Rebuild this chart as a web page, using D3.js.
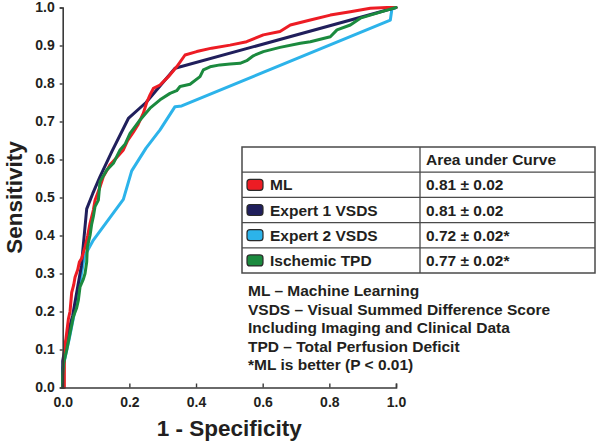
<!DOCTYPE html>
<html>
<head>
<meta charset="utf-8">
<script src="https://cdn.jsdelivr.net/npm/d3@7"></script>
<style>
  html, body { margin: 0; padding: 0; background: #fff; }
  svg { display: block; }
  text { font-family: "Liberation Sans", Arial, Helvetica, sans-serif; font-weight: bold; fill: #231f20; }
</style>
</head>
<body>
<svg id="chart" width="600" height="444"></svg>
<script>
// ---------- data ----------
const xTicks = [0.0, 0.2, 0.4, 0.6, 0.8, 1.0];
const yTicks = [0.0, 0.1, 0.2, 0.3, 0.4, 0.5, 0.6, 0.7, 0.8, 0.9, 1.0];

const seriesNames = ["ML", "Expert 1 VSDS", "Expert 2 VSDS", "Ischemic TPD"];
const seriesColors = ["#ed1c24", "#201f5c", "#2cb3ea", "#1b8a3e"];
const aucLabels = ["0.81 \u00b1 0.02", "0.81 \u00b1 0.02", "0.72 \u00b1 0.02*", "0.77 \u00b1 0.02*"];

// ROC points: [1 - specificity, sensitivity]
const mlCurve = [
  [0,0],[0.005,0],[0.005,0.10],[0.010,0.13],[0.017,0.18],[0.022,0.20],[0.027,0.25],
  [0.033,0.27],[0.037,0.29],[0.045,0.31],[0.050,0.33],[0.057,0.34],[0.067,0.37],
  [0.075,0.40],[0.082,0.432],[0.092,0.467],[0.097,0.493],[0.112,0.528],[0.122,0.555],
  [0.142,0.586],[0.162,0.605],[0.182,0.625],[0.195,0.65],[0.212,0.672],[0.225,0.69],
  [0.242,0.722],[0.252,0.75],[0.262,0.77],[0.272,0.787],[0.292,0.796],[0.317,0.818],
  [0.342,0.844],[0.367,0.875],[0.402,0.884],[0.447,0.893],[0.502,0.901],[0.552,0.91],
  [0.602,0.928],[0.652,0.937],[0.683,0.954],[0.743,0.967],[0.803,0.98],[0.863,0.989],
  [0.923,0.998],[0.973,1.0],[1,1]
];
const expert1Curve = [
  [0,0],[0,0.07],[0.012,0.13],[0.03,0.19],[0.056,0.32],[0.072,0.47],[0.09,0.51],
  [0.112,0.555],[0.147,0.62],[0.197,0.708],[0.25,0.75],[0.337,0.84],[1,1]
];
const expert2Curve = [
  [0,0],[0,0.05],[0.02,0.13],[0.045,0.24],[0.065,0.345],[0.092,0.388],[0.182,0.495],
  [0.207,0.57],[0.25,0.63],[0.292,0.678],[0.337,0.739],[0.357,0.741],[0.983,0.967],
  [0.988,0.998],[1,1]
];
const tpdCurve = [
  [0,0],[0,0.03],[0.003,0.064],[0.012,0.099],[0.022,0.143],[0.032,0.186],[0.042,0.21],
  [0.047,0.23],[0.052,0.265],[0.062,0.285],[0.067,0.30],[0.072,0.33],[0.074,0.37],
  [0.082,0.40],[0.087,0.43],[0.092,0.45],[0.097,0.476],[0.107,0.493],[0.112,0.542],
  [0.132,0.572],[0.152,0.59],[0.172,0.625],[0.187,0.64],[0.202,0.669],[0.232,0.704],
  [0.262,0.735],[0.292,0.757],[0.322,0.774],[0.342,0.781],[0.352,0.792],[0.382,0.798],
  [0.412,0.818],[0.422,0.836],[0.442,0.844],[0.472,0.849],[0.502,0.851],[0.532,0.853],
  [0.552,0.86],[0.572,0.873],[0.602,0.884],[0.652,0.895],[0.713,0.906],[0.743,0.91],
  [0.803,0.923],[0.823,0.941],[0.863,0.954],[0.893,0.972],[0.923,0.98],[0.973,0.993],[1,1]
];
const curves = [mlCurve, expert1Curve, expert2Curve, tpdCurve];
const drawOrder = [2, 1, 0, 3];

const notes = [
  "ML \u2013 Machine Learning",
  "VSDS \u2013 Visual Summed Difference Score",
  "Including Imaging and Clinical Data",
  "TPD \u2013 Total Perfusion Deficit",
  "*ML is better (P < 0.01)"
];

// ---------- layout ----------
const svg = d3.select("#chart");
const x = d3.scaleLinear().domain([0, 1]).range([62.7, 396]);
const y = d3.scaleLinear().domain([0, 1]).range([387.5, 7.5]);

// curves
const line = d3.line().x(d => x(d[0])).y(d => y(d[1])).curve(d3.curveLinear);
const gCurves = svg.append("g");
drawOrder.forEach(i => {
  gCurves.append("path")
    .datum(curves[i])
    .attr("d", line)
    .attr("fill", "none")
    .attr("stroke", seriesColors[i])
    .attr("stroke-width", 3)
    .attr("stroke-linejoin", "round")
    .attr("stroke-linecap", "round");
});

// axes
const xAxis = svg.append("g")
  .attr("transform", `translate(0,${y(0)})`)
  .call(d3.axisBottom(x).tickValues(xTicks).tickSize(-4).tickPadding(10).tickFormat(d3.format(".1f")));
const yAxis = svg.append("g")
  .attr("transform", `translate(${x(0)},0)`)
  .call(d3.axisLeft(y).tickValues(yTicks).tickSize(3).tickPadding(5).tickFormat(d3.format(".1f")));
[xAxis, yAxis].forEach(a => {
  a.select(".domain").attr("stroke", "#3a3a3a").attr("stroke-width", 1.6);
  a.selectAll(".tick line").attr("stroke", "#3a3a3a").attr("stroke-width", 1.4);
  a.selectAll(".tick text").attr("font-size", 14).attr("font-weight", "bold")
    .attr("fill", "#231f20").style("font-family", '"Liberation Sans", Arial, sans-serif');
});

// axis titles
svg.append("text")
  .attr("x", (x(0) + x(1)) / 2).attr("y", 436)
  .attr("text-anchor", "middle").attr("font-size", 22.5)
  .text("1 - Specificity");
svg.append("text")
  .attr("transform", `translate(22,${(y(0) + y(1)) / 2}) rotate(-90)`)
  .attr("text-anchor", "middle").attr("font-size", 22.5)
  .text("Sensitivity");

// legend table
const tbl = { left: 242, right: 595, top: 147, colX: 420, rowH: 25.2 };
const nRows = seriesNames.length + 1;
const gT = svg.append("g");
gT.append("rect")
  .attr("x", tbl.left).attr("y", tbl.top)
  .attr("width", tbl.right - tbl.left).attr("height", tbl.rowH * nRows)
  .attr("fill", "#fff").attr("stroke", "#4a4a4a").attr("stroke-width", 1.5);
for (let r = 1; r < nRows; r++) {
  gT.append("line")
    .attr("x1", tbl.left).attr("x2", tbl.right)
    .attr("y1", tbl.top + r * tbl.rowH).attr("y2", tbl.top + r * tbl.rowH)
    .attr("stroke", "#4a4a4a").attr("stroke-width", 1.3);
}
gT.append("line")
  .attr("x1", tbl.colX).attr("x2", tbl.colX)
  .attr("y1", tbl.top).attr("y2", tbl.top + tbl.rowH * nRows)
  .attr("stroke", "#4a4a4a").attr("stroke-width", 1.3);
gT.append("text")
  .attr("x", tbl.colX + 6).attr("y", tbl.top + tbl.rowH / 2 + 5.5)
  .attr("font-size", 15.5).text("Area under Curve");
seriesNames.forEach((name, i) => {
  const cy = tbl.top + (i + 1.5) * tbl.rowH;
  gT.append("rect")
    .attr("x", 247).attr("y", cy - 5.5).attr("width", 16).attr("height", 11)
    .attr("rx", 3).attr("ry", 3)
    .attr("fill", seriesColors[i]).attr("stroke", "#2a2a2a").attr("stroke-width", 1.2);
  gT.append("text").attr("x", 270).attr("y", cy + 5.5).attr("font-size", 15.5).text(name);
  gT.append("text").attr("x", tbl.colX + 6).attr("y", cy + 5.5).attr("font-size", 15.5).text(aucLabels[i]);
});

// notes
notes.forEach((t, i) => {
  svg.append("text").attr("x", 248).attr("y", 296 + i * 18.5).attr("font-size", 15.5).text(t);
});
</script>
</body>
</html>
